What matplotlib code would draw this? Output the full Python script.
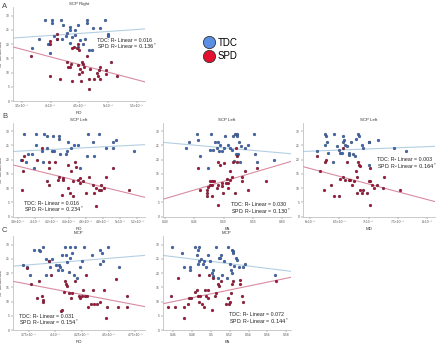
import matplotlib
matplotlib.use("Agg")
import matplotlib.pyplot as plt
from matplotlib.lines import Line2D

plt.rcParams['font.family'] = ['Liberation Sans', 'DejaVu Sans']

# ---- data (RD / MD in units of 1e-4, FA raw) ----
groups = ["TDC", "SPD"]
y_ticks = [0, 5, 10, 15, 20, 25, 30]

# A: SCP Right vs RD
a_tdc = [(3.91, 28.6), (4.02, 28.6), (4.18, 28.6), (4.63, 28.6), (4.95, 28.6), (4.03, 27.4),
         (4.21, 26.7), (4.47, 26.7), (4.64, 27.4), (4.34, 25.9), (4.33, 24.8), (4.42, 24.8),
         (4.73, 25.7), (4.86, 25.7), (4.28, 24.0), (4.05, 22.8), (4.27, 22.8), (4.11, 21.7),
         (3.79, 21.7), (4.20, 21.7), (4.43, 23.3), (4.99, 23.6), (4.99, 22.8), (3.95, 19.9),
         (4.34, 20.5), (4.47, 19.0), (4.57, 19.9), (4.66, 17.8), (4.72, 17.8), (3.67, 18.7),
         (3.98, 16.9), (4.60, 21.7), (4.37, 22.4), (4.51, 21.3)]
a_spd = [(3.66, 15.7), (4.11, 23.6), (4.11, 21.9), (3.98, 20.9), (3.98, 19.9), (4.41, 19.0),
         (4.47, 20.1), (4.45, 18.7), (4.50, 17.8), (4.37, 18.7), (4.64, 15.8), (4.28, 13.7),
         (4.35, 13.1), (4.31, 12.0), (4.34, 12.0), (4.54, 13.7), (4.57, 13.1), (4.47, 12.6),
         (4.51, 11.4), (4.54, 10.2), (4.58, 12.0), (4.69, 11.4), (4.86, 12.0), (4.84, 10.8),
         (4.80, 9.7), (4.83, 8.7), (4.75, 7.7), (4.86, 7.7), (4.97, 9.4), (4.97, 10.8),
         (5.05, 13.7), (5.15, 8.7), (3.99, 8.8), (4.17, 7.7), (4.37, 7.1), (4.53, 7.1),
         (4.67, 7.7), (4.67, 4.1), (4.50, 9.4)]
a_fit = {"TDC": [22.1, 25.3], "SPD": [19.0, 6.7]}
a_r2 = ["0.016", "0.136*"]

# B1: SCP Left vs RD
b1_tdc = [(3.87, 29.1), (4.01, 29.1), (4.11, 29.1), (4.21, 28.2), (4.28, 28.2), (4.28, 27.4),
          (4.14, 28.2), (4.62, 29.1), (4.75, 29.1), (4.68, 26.1), (4.95, 27.1), (4.91, 26.1),
          (4.39, 26.1), (4.46, 25.3), (4.01, 25.3), (4.14, 24.1), (4.08, 22.9), (3.97, 22.1),
          (3.92, 22.1), (4.20, 22.9), (4.22, 22.9), (4.30, 22.1), (4.36, 22.1), (4.38, 22.9),
          (4.50, 25.3), (4.42, 24.1), (4.61, 21.2), (4.69, 21.2), (4.83, 24.1), (4.91, 24.1),
          (5.16, 22.9), (3.84, 20.0), (3.89, 19.2), (4.09, 19.2), (4.53, 17.1), (3.99, 17.1)]
b1_spd = [(3.87, 21.2), (3.85, 20.0), (3.86, 16.1), (3.85, 9.2), (4.02, 20.0), (4.08, 24.1),
          (4.17, 19.2), (4.17, 17.1), (4.24, 19.2), (4.14, 12.4), (4.17, 11.2), (4.28, 14.1),
          (4.27, 12.9), (4.33, 13.5), (4.33, 12.9), (4.39, 18.2), (4.42, 16.1), (4.47, 19.2),
          (4.48, 17.6), (4.45, 12.4), (4.50, 12.9), (4.53, 11.8), (4.56, 12.4), (4.53, 13.5),
          (4.39, 10.0), (4.45, 7.1), (4.41, 8.2), (4.60, 8.2), (4.68, 11.2), (4.69, 8.2),
          (4.72, 10.0), (4.75, 9.4), (4.78, 11.2), (4.78, 9.4), (4.81, 10.0), (4.83, 14.1),
          (4.92, 17.1), (5.10, 9.2), (4.72, 3.9), (4.63, 14.1), (4.32, 7.6)]
b1_fit = {"TDC": [22.9, 25.3], "SPD": [18.2, 6.8]}
b1_r2 = ["0.016", "0.234*"]

# B2: SCP Left vs FA
b2_tdc = [(0.436, 24.1), (0.441, 26.1), (0.455, 29.1), (0.457, 27.1), (0.478, 29.1), (0.486, 26.1),
          (0.491, 26.1), (0.494, 25.3), (0.476, 23.3), (0.482, 23.3), (0.488, 24.1), (0.492, 22.9),
          (0.497, 22.9), (0.501, 24.1), (0.502, 28.2), (0.508, 25.3), (0.511, 24.1), (0.514, 23.3),
          (0.516, 28.2), (0.519, 29.1), (0.523, 29.1), (0.523, 28.2), (0.527, 26.1), (0.521, 22.1),
          (0.525, 22.1), (0.529, 24.7), (0.536, 24.1), (0.542, 25.3), (0.552, 29.1), (0.553, 22.1),
          (0.557, 19.2), (0.586, 20.0), (0.459, 21.2), (0.474, 17.1), (0.518, 19.4), (0.528, 19.2)]
b2_spd = [(0.457, 17.1), (0.459, 9.2), (0.471, 9.2), (0.474, 10.6), (0.476, 12.4), (0.477, 11.2),
          (0.480, 11.2), (0.481, 12.4), (0.484, 12.4), (0.471, 8.2), (0.472, 7.3), (0.480, 7.1),
          (0.488, 10.0), (0.491, 19.1), (0.494, 18.2), (0.491, 11.2), (0.497, 10.8), (0.499, 8.2),
          (0.501, 18.8), (0.505, 13.2), (0.504, 12.0), (0.508, 11.8), (0.508, 10.0), (0.511, 16.1),
          (0.511, 12.9), (0.514, 14.1), (0.516, 19.1), (0.519, 8.2), (0.521, 24.1), (0.523, 21.2),
          (0.523, 19.1), (0.531, 14.1), (0.531, 12.4), (0.536, 16.1), (0.542, 9.4), (0.557, 17.1),
          (0.573, 12.4), (0.491, 4.1), (0.497, 12.0)]
b2_fit = {"TDC": [26.1, 22.1], "SPD": [6.1, 19.4]}
b2_r2 = ["0.030", "0.130*"]

# B3: SCP Left vs MD
b3_tdc = [(6.11, 22.9), (6.26, 29.1), (6.27, 28.5), (6.29, 26.1), (6.26, 25.3), (6.30, 22.4),
          (6.41, 29.1), (6.46, 24.7), (6.50, 23.3), (6.56, 28.2), (6.58, 27.1), (6.56, 26.1),
          (6.60, 25.3), (6.63, 24.7), (6.51, 22.4), (6.54, 22.4), (6.67, 22.4), (6.70, 26.1),
          (6.74, 22.1), (6.77, 21.2), (6.79, 27.3), (6.82, 29.1), (6.83, 28.2), (6.89, 25.3),
          (6.91, 24.1), (7.00, 26.1), (7.01, 26.1), (7.00, 18.2), (7.17, 27.1), (7.44, 24.1),
          (7.65, 22.9), (6.39, 19.2), (6.66, 21.8)]
b3_spd = [(6.11, 21.2), (6.16, 16.1), (6.26, 19.2), (6.27, 20.0), (6.23, 9.2), (6.35, 11.2),
          (6.41, 7.1), (6.49, 7.1), (6.51, 13.2), (6.56, 14.1), (6.57, 24.1), (6.60, 12.9),
          (6.63, 19.2), (6.66, 12.9), (6.69, 12.9), (6.71, 11.2), (6.75, 12.4), (6.79, 16.1),
          (6.80, 14.1), (6.80, 8.2), (6.82, 19.2), (6.83, 18.2), (6.85, 17.9), (6.86, 9.4),
          (6.89, 8.2), (6.90, 9.4), (6.97, 8.2), (7.00, 12.4), (7.02, 12.4), (7.03, 17.1),
          (7.06, 11.2), (7.09, 10.0), (7.02, 4.1), (7.14, 11.2), (7.25, 10.0), (7.27, 14.1),
          (7.54, 9.2)]
b3_fit = {"TDC": [22.9, 24.7], "SPD": [17.6, 5.3]}
b3_r2 = ["0.003", "0.164*"]

# C1: MCP vs RD
c1_tdc = [(3.70, 22.9), (3.73, 22.0), (3.76, 19.2), (3.80, 28.2), (3.85, 28.2), (3.88, 29.1),
          (3.86, 27.6), (3.91, 24.9), (3.94, 24.1), (3.95, 22.0), (3.97, 24.9), (3.91, 19.2),
          (4.01, 22.9), (4.03, 22.9), (4.04, 22.0), (4.02, 21.2), (4.06, 26.2), (4.06, 21.2),
          (4.09, 29.1), (4.10, 26.2), (4.11, 23.9), (4.13, 20.4), (4.14, 25.3), (4.14, 29.1),
          (4.16, 27.1), (4.18, 29.1), (4.17, 19.4), (4.20, 18.2), (4.23, 22.0), (4.25, 24.1),
          (4.27, 29.1), (4.34, 26.2), (4.42, 28.2), (4.44, 27.1), (4.42, 23.2), (4.45, 24.1),
          (4.49, 29.1), (4.60, 22.0)]
c1_spd = [(3.77, 16.1), (3.73, 21.8), (3.83, 11.2), (3.85, 17.1), (3.87, 12.1), (3.88, 10.6),
          (3.88, 9.8), (3.94, 24.1), (3.96, 19.2), (4.05, 6.5), (4.06, 7.1), (4.08, 13.5),
          (4.09, 17.1), (4.10, 16.1), (4.11, 15.3), (4.13, 12.9), (4.15, 11.2), (4.16, 12.9),
          (4.18, 17.1), (4.22, 12.1), (4.23, 11.2), (4.25, 12.1), (4.26, 14.1), (4.28, 12.1),
          (4.29, 19.2), (4.30, 12.1), (4.31, 8.2), (4.33, 9.2), (4.35, 14.1), (4.36, 9.2),
          (4.39, 9.2), (4.42, 10.0), (4.46, 14.1), (4.47, 4.1), (4.48, 8.2), (4.57, 18.0),
          (4.59, 8.2), (4.67, 12.1), (4.67, 8.2)]
c1_fit = {"TDC": [22.4, 26.2], "SPD": [17.1, 8.2]}
c1_r2 = ["0.031", "0.154*"]

# C2: MCP vs FA
c2_tdc = [(0.459, 29.1), (0.469, 27.1), (0.472, 22.0), (0.478, 22.0), (0.478, 21.2), (0.483, 29.1),
          (0.486, 28.2), (0.488, 29.1), (0.485, 26.2), (0.486, 23.2), (0.488, 24.1), (0.490, 24.9),
          (0.492, 23.2), (0.493, 24.1), (0.495, 22.0), (0.497, 26.2), (0.499, 24.1), (0.501, 20.0),
          (0.502, 18.8), (0.502, 21.2), (0.506, 29.1), (0.508, 18.2), (0.509, 25.3), (0.510, 25.3),
          (0.511, 26.2), (0.512, 19.2), (0.514, 24.1), (0.518, 29.1), (0.517, 18.2), (0.520, 23.2),
          (0.522, 28.2), (0.523, 27.9), (0.523, 27.1), (0.521, 21.2), (0.522, 20.0), (0.525, 22.4),
          (0.527, 25.3), (0.528, 24.4), (0.530, 22.0), (0.534, 22.0), (0.536, 23.2), (0.568, 19.2)]
c2_spd = [(0.455, 8.2), (0.458, 12.1), (0.462, 8.2), (0.465, 18.2), (0.472, 8.2), (0.472, 4.1),
          (0.476, 9.2), (0.477, 11.2), (0.479, 11.2), (0.483, 13.5), (0.485, 14.1), (0.486, 12.1),
          (0.488, 10.0), (0.488, 19.2), (0.489, 12.1), (0.491, 9.2), (0.493, 8.2), (0.494, 14.1),
          (0.497, 11.2), (0.495, 12.1), (0.497, 14.1), (0.498, 19.2), (0.501, 7.1), (0.502, 18.2),
          (0.504, 12.1), (0.506, 12.9), (0.508, 16.1), (0.509, 15.3), (0.511, 17.1), (0.516, 9.2),
          (0.518, 11.2), (0.519, 9.2), (0.520, 10.0), (0.521, 12.9), (0.522, 16.1), (0.523, 17.1),
          (0.531, 16.1), (0.531, 17.6), (0.533, 12.1), (0.534, 10.0), (0.569, 17.1)]
c2_fit = {"TDC": [26.2, 20.6], "SPD": [9.2, 18.5]}
c2_r2 = ["0.072", "0.144*"]

rd_a_ticks = [3.5, 4.0, 4.5, 5.0, 5.5]
rd_a_labels = ["3.5×10⁻⁴", "4×10⁻⁴", "4.5×10⁻⁴", "5×10⁻⁴", "5.5×10⁻⁴"]
rd_b_ticks = [3.8, 4.0, 4.2, 4.4, 4.6, 4.8, 5.0, 5.2]
rd_b_labels = ["3.8×10⁻⁴", "4×10⁻⁴", "4.2×10⁻⁴", "4.4×10⁻⁴", "4.6×10⁻⁴", "4.8×10⁻⁴", "5×10⁻⁴", "5.2×10⁻⁴"]
fa_b_ticks = [0.40, 0.45, 0.50, 0.55, 0.60]
fa_b_labels = ["0.40", "0.45", "0.50", "0.55", "0.60"]
md_b_ticks = [6.0, 6.5, 7.0, 7.5, 8.0]
md_b_labels = ["6×10⁻⁴", "6.5×10⁻⁴", "7×10⁻⁴", "7.5×10⁻⁴", "8×10⁻⁴"]
rd_c_ticks = [3.75, 4.0, 4.25, 4.5, 4.75]
rd_c_labels = ["3.75×10⁻⁴", "4×10⁻⁴", "4.25×10⁻⁴", "4.5×10⁻⁴", "4.75×10⁻⁴"]
fa_c_ticks = [0.46, 0.48, 0.50, 0.52, 0.54, 0.56, 0.58]
fa_c_labels = ["0.46", "0.48", "0.5", "0.52", "0.54", "0.56", "0.58"]

# ---- drawing ----
W, H = 440, 344
dot_col = {"TDC": "#4169b5", "SPD": "#a3173a"}
line_col = {"TDC": "#b3cfe3", "SPD": "#d88ca3"}
axis_col = "#b5b5b5"
txt_col = "#333333"

fig = plt.figure(figsize=(W / 100, H / 100), dpi=100)


def px_axes(left, top, right, bottom):
    return fig.add_axes([left / W, 1 - bottom / H, (right - left) / W, (bottom - top) / H])


def panel(box, title, xlabel, xlim, ticks, labels, tdc, spd, fit, r2, txt_xy, ylabel=True):
    ax = px_axes(*box)
    for g, pts in zip(groups, [tdc, spd]):
        ax.plot(xlim, fit[g], color=line_col[g], lw=0.8, zorder=1)
        ax.scatter([p[0] for p in pts], [p[1] for p in pts], s=4.5, color=dot_col[g],
                   edgecolors="#222222", linewidths=0.15, zorder=2)
    ax.set_xlim(xlim)
    ax.set_ylim(0, 33)
    ax.set_xticks(ticks)
    ax.set_xticklabels(labels)
    ax.set_yticks(y_ticks)
    for s in ["top", "right"]:
        ax.spines[s].set_visible(False)
    for s in ["left", "bottom"]:
        ax.spines[s].set_color(axis_col)
        ax.spines[s].set_linewidth(0.5)
    ax.tick_params(labelsize=2.4, colors="#555555", length=1.2, width=0.3, pad=1)
    ax.set_title(title, fontsize=3.2, color=txt_col, pad=1.5)
    ax.set_xlabel(xlabel, fontsize=3.2, color=txt_col, labelpad=2)
    if ylabel:
        ax.set_ylabel("SP ineffective", fontsize=3.2, color=txt_col, labelpad=2)
    tx, ty = txt_xy
    fig.text(tx / W, 1 - ty / H, "TDC: R² Linear = " + r2[0], fontsize=3.8, color="#222222", va="center")
    fig.text(tx / W, 1 - (ty + 6.5) / H, "SPD: R² Linear = $" + r2[1].replace("*", "^{*}") + "$",
             fontsize=3.8, color="#222222", va="center")
    return ax


panel((12.7, 7, 145, 101), "SCP Right", "RD", (3.34, 5.64), rd_a_ticks, rd_a_labels,
      a_tdc, a_spd, a_fit, a_r2, (97, 40))
panel((12.7, 122.7, 145, 216.7), "SCP Left", "RD", (3.74, 5.29), rd_b_ticks, rd_b_labels,
      b1_tdc, b1_spd, b1_fit, b1_r2, (24, 203))
panel((162.7, 122.7, 291, 216.7), "SCP Left", "FA", (0.396, 0.615), fa_b_ticks, fa_b_labels,
      b2_tdc, b2_spd, b2_fit, b2_r2, (231, 205), ylabel=False)
panel((302.7, 122.7, 435, 216.7), "SCP Left", "MD", (5.87, 8.14), md_b_ticks, md_b_labels,
      b3_tdc, b3_spd, b3_fit, b3_r2, (377, 160), ylabel=False)
panel((12.7, 236, 145, 330), "MCP", "RD", (3.60, 4.84), rd_c_ticks, rd_c_labels,
      c1_tdc, c1_spd, c1_fit, c1_r2, (19, 316))
panel((162.7, 236, 291, 330), "MCP", "FA", (0.449, 0.585), fa_c_ticks, fa_c_labels,
      c2_tdc, c2_spd, c2_fit, c2_r2, (229, 315), ylabel=False)

for letter, y in [("A", 6), ("B", 117), ("C", 231)]:
    fig.text(2 / W, 1 - y / H, letter, fontsize=5.5, color="#444444", va="center")

handles = [Line2D([], [], ls="none", marker="o", markersize=8.8, markerfacecolor=c,
                  markeredgecolor="#333333", markeredgewidth=0.6)
           for c in ["#5b8fe3", "#e3102f"]]
fig.legend(handles, groups, loc="upper left", bbox_to_anchor=(198 / W, 1 - 34 / H),
           frameon=False, fontsize=7, handletextpad=0.1, labelspacing=0.35,
           borderaxespad=0, handlelength=1.5)

fig.savefig("out.png", dpi=100)
